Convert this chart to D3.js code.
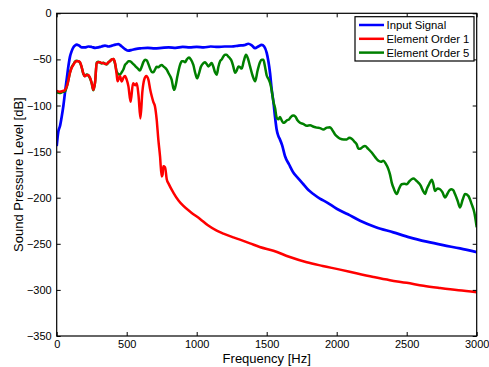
<!DOCTYPE html>
<html><head><meta charset="utf-8">
<script src="https://cdn.jsdelivr.net/npm/d3@7"></script>
<style>body{margin:0;background:#fff}svg{display:block}text{font-family:"Liberation Sans",Arial,Helvetica,sans-serif;fill:#000}</style>
</head><body><svg id="c" width="489" height="367"></svg>
<script>
const xTicks=[0,500,1000,1500,2000,2500,3000];
const yTicks=[0,-50,-100,-150,-200,-250,-300,-350];
const seriesNames=["Input Signal","Element Order 1","Element Order 5"];
const seriesColors=["#0000ff","#ff0000","#008000"];

const inputFreq=[0,12,24,36,48,60,71,83,95,107,119,131,143,160,180,202,225,250,275,298,320,345,370,395,420,440,465,490,512,540,570,600,650,700,750,800,850,900,950,1000,1050,1100,1150,1200,1250,1300,1340,1369,1395,1417,1440,1464,1482,1500,1512,1524,1536,1548,1560,1571,1583,1595,1610,1631,1660,1690,1725,1762,1800,1833,1880,1929,2000,2080,2167,2280,2405,2520,2643,2760,2881,3000];
const inputDb=[-144,-128,-122,-112,-100,-85,-72,-58,-47,-41,-37,-35,-34,-35,-37,-37,-36,-36.5,-37.5,-37,-36,-35,-36,-35,-34,-33.5,-36,-39,-40.5,-39.5,-38.5,-38,-37.5,-38,-37.5,-37,-37.5,-36.5,-37,-36.5,-37,-36,-36.5,-36,-36,-35,-34.5,-33,-35,-37.8,-36,-34.2,-36,-43,-52,-65,-83,-96,-113,-126,-133,-137,-143,-155,-164,-172.7,-179,-185.4,-192,-196,-201,-205,-212,-218,-225,-232,-237.6,-243,-247.7,-251.5,-255,-259];

const order1Freq=[0,20,40,60,75,95,107,119,131,143,155,166,178,190,202,214,226,238,250,262,274,286,298,310,322,333,345,357,369,381,393,405,417,428,435,445,452,464,476,488,500,512,528,545,560,572,585,598,612,625,640,655,667,679,690,702,714,726,738,750,756,762,774,786,800,833,870,905,960,1024,1080,1143,1200,1262,1309,1381,1450,1548,1660,1786,1900,2024,2140,2262,2380,2500,2620,2738,2870,3000];
const order1Db=[-84,-85,-84.5,-83,-78,-64.5,-59,-56,-53,-52,-52,-53,-58,-65,-68.4,-67,-67,-70,-75.6,-83,-75,-54,-53,-53,-54,-54,-55,-55,-53,-52,-50,-49.7,-54,-66,-73.8,-70,-68,-74,-70,-68,-72,-79,-96,-76,-78,-76,-90,-114,-85,-72,-68,-72,-82,-90,-96,-101,-115,-137,-155,-177,-175,-166,-167,-180,-185,-194.4,-203,-209,-216,-223,-230,-235.8,-239.5,-243,-245.5,-249.5,-253.5,-257.5,-264,-270,-274,-278,-282,-286,-289.5,-292.3,-295.5,-298,-300.5,-302.5];

const order5Freq=[0,20,40,60,75,95,107,119,131,143,155,166,178,190,202,214,226,238,250,262,274,286,298,310,322,333,345,357,369,381,393,405,417,428,440,452,464,476,488,500,512,524,540,560,580,595,607,619,631,643,655,667,679,690,702,714,726,738,750,762,774,786,798,810,821,833,840,850,862,881,893,905,917,930,945,958,976,990,1003,1015,1030,1048,1060,1071,1083,1095,1107,1119,1131,1143,1155,1167,1179,1190,1202,1214,1226,1238,1250,1262,1274,1286,1298,1310,1321,1336,1352,1366,1381,1400,1417,1435,1452,1464,1476,1488,1500,1512,1524,1536,1548,1560,1571,1583,1595,1607,1619,1631,1645,1660,1675,1690,1705,1720,1738,1760,1786,1810,1835,1857,1881,1905,1930,1952,1970,1988,2010,2024,2050,2071,2090,2107,2125,2143,2155,2167,2185,2202,2225,2250,2275,2298,2315,2333,2350,2369,2381,2393,2410,2429,2446,2464,2482,2500,2520,2535,2548,2565,2583,2600,2615,2631,2645,2660,2679,2690,2702,2720,2738,2755,2774,2790,2805,2821,2833,2845,2863,2881,2900,2917,2940,2964,2983,3000];
const order5Db=[-85.5,-86.5,-85.5,-84.5,-78,-64,-58.5,-55.5,-52.5,-51.5,-52,-53.5,-58.5,-65.5,-68,-66.5,-67.5,-70.5,-76,-83.5,-75,-53.5,-52.5,-53.5,-54.5,-53.5,-54.5,-55.5,-53.5,-51.5,-50,-49.7,-55,-63,-66,-66.6,-64,-61,-56,-54,-52,-52,-54,-57,-60,-62,-58,-53,-50.5,-51,-55,-60,-63.5,-64,-61,-58,-58.5,-57,-56,-57.6,-59,-61,-64.8,-68,-72,-81,-83,-78,-68.4,-56,-52,-52,-53,-50,-48,-50,-56,-65,-70.5,-66,-58,-54,-53,-55,-57.6,-55.8,-54,-58,-64,-66.6,-58,-52,-50,-47,-45,-45,-47,-49,-52,-58,-64.5,-62,-57.6,-58.5,-60,-52,-45,-49,-57.6,-68,-73.8,-62,-53,-50.5,-50.5,-58,-67.5,-71,-75.6,-84,-96,-103,-113,-115,-112.5,-116,-118.8,-118,-116,-115,-112,-110.9,-112,-116,-118.8,-120,-122,-121.5,-123,-124,-124.5,-126,-124,-123.5,-127,-131.4,-134.5,-136,-137,-136.8,-135,-136,-139,-142.2,-147,-147,-145,-144,-147,-151,-156,-160,-161,-160,-163,-169,-175,-183.6,-191,-196,-190,-185.4,-185,-185.4,-182,-180,-179.3,-181,-183.6,-187,-192,-196,-190,-185.4,-180.5,-185,-192.6,-190,-190.8,-194,-199.8,-196,-192,-190.8,-192,-196,-203,-210.6,-202,-196,-198,-207,-216,-232];

const svg=d3.select("#c");
const L=56.7,R=476.7,T=13.3,B=336;
const x=d3.scaleLinear().domain([0,3000]).range([L,R]);
const y=d3.scaleLinear().domain([-350,0]).range([B,T]);

const clipId="clip";
svg.append("clipPath").attr("id",clipId).append("rect").attr("x",L).attr("y",T).attr("width",R-L).attr("height",B-T);

const series=[[inputFreq,inputDb],[order1Freq,order1Db],[order5Freq,order5Db]];
const line=d3.line().x(d=>x(d[0])).y(d=>y(d[1])).curve(d3.curveMonotoneX);
const drawOrder=[0,2,1];
drawOrder.forEach(i=>{
  const pts=series[i][0].map((f,k)=>[f,series[i][1][k]]);
  svg.append("path").attr("d",line(pts)).attr("fill","none")
    .attr("stroke",seriesColors[i]).attr("stroke-width",i===0?2.7:2.5)
    .attr("stroke-linejoin","round").attr("clip-path","url(#"+clipId+")");
});

const fmt=d=>d<0?"\u2212"+Math.abs(d):String(d);
const xb=svg.append("g").attr("transform",`translate(0,${B})`).call(d3.axisBottom(x).tickValues(xTicks).tickSizeInner(-4).tickSizeOuter(0).tickPadding(4).tickFormat(fmt));
const xt=svg.append("g").attr("transform",`translate(0,${T})`).call(d3.axisTop(x).tickValues(xTicks).tickSizeInner(-4).tickSizeOuter(0).tickFormat(""));
const yl=svg.append("g").attr("transform",`translate(${L},0)`).call(d3.axisLeft(y).tickValues(yTicks).tickSizeInner(-4).tickSizeOuter(0).tickPadding(5).tickFormat(fmt));
const yr=svg.append("g").attr("transform",`translate(${R},0)`).call(d3.axisRight(y).tickValues(yTicks).tickSizeInner(-4).tickSizeOuter(0).tickFormat(""));
[xb,xt,yl,yr].forEach(g=>{g.select(".domain").remove();g.selectAll("line").attr("stroke","#000");g.selectAll("text").style("font-size","11px").attr("fill","#000");});
svg.append("rect").attr("x",L).attr("y",T).attr("width",R-L).attr("height",B-T).attr("fill","none").attr("stroke","#000").attr("stroke-width",1.2);

svg.append("text").attr("x",(L+R)/2).attr("y",363).attr("text-anchor","middle").style("font-size","13px").text("Frequency [Hz]");
svg.append("text").attr("transform",`translate(22.5,${(T+B)/2}) rotate(-90)`).attr("text-anchor","middle").style("font-size","13px").text("Sound Pressure Level [dB]");

const lg=svg.append("g");
lg.append("rect").attr("x",355).attr("y",16.7).attr("width",119).attr("height",44.3).attr("fill","#fff").attr("stroke","#000").attr("stroke-width",1.2);
seriesNames.forEach((n,i)=>{
  const yy=25+i*13.8;
  lg.append("line").attr("x1",359).attr("x2",384).attr("y1",yy).attr("y2",yy).attr("stroke",seriesColors[i]).attr("stroke-width",2.5);
  lg.append("text").attr("x",386.5).attr("y",yy).attr("dy","0.35em").style("font-size","11.3px").text(n);
});
</script></body></html>
